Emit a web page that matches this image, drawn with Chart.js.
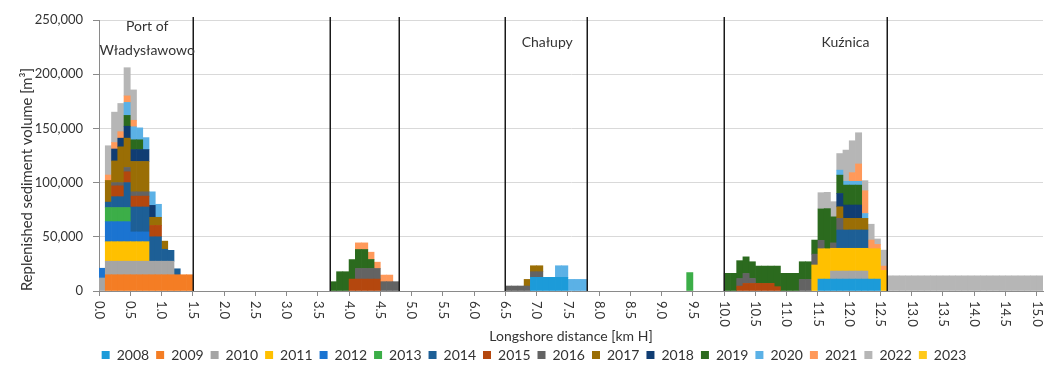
<!DOCTYPE html>
<html>
<head>
<meta charset="utf-8">
<script src="https://cdn.jsdelivr.net/npm/chart.js@4.4.1/dist/chart.umd.min.js"></script>
<style>
  html, body { margin: 0; padding: 0; background: #ffffff; }
</style>
</head>
<body>
<canvas id="chart" width="1057" height="365"></canvas>
<script>
// Replenished sediment volume (m³) per nourishment year.
// Each entry: [start of the 0.1 km bin (km H), volume in m³].
const years = ['2008','2009','2010','2011','2012','2013','2014','2015',
               '2016','2017','2018','2019','2020','2021','2022','2023'];

const v2008 = [
  [6.9,12600],[7.0,12600],[7.1,12600],[7.2,12600],[7.3,12600],[7.4,12600],
  [11.5,11000],[11.6,11000],[11.7,11000],[11.8,11000],[11.9,11000],
  [12.0,11000],[12.1,11000],[12.2,11000],[12.3,11000],[12.4,11000]
];
const v2009 = [
  [0.1,15000],[0.2,15000],[0.3,15000],[0.4,15000],[0.5,15000],[0.6,15000],[0.7,15000],
  [0.8,15000],[0.9,15000],[1.0,15000],[1.1,15000],[1.2,15000],[1.3,15000],[1.4,15000]
];
const v2010 = [
  [0.0,12000],[0.1,12500],[0.2,12500],[0.3,12500],[0.4,12500],[0.5,12500],[0.6,12500],
  [0.7,12500],[0.8,12500],[0.9,12500],[1.0,12500],[1.1,12500],
  [11.7,7400],[11.8,7400],[11.9,7400],[12.0,7400],[12.1,7400],[12.2,7400]
];
const v2011 = [
  [0.1,18000],[0.2,18000],[0.3,18000],[0.4,18000],[0.5,18000],[0.6,18000],[0.7,18000],
  [11.4,24000],[11.5,28000],[11.6,28000],[11.7,21000],[11.8,21000],[11.9,21000],
  [12.0,21000],[12.1,21000],[12.2,21000],[12.3,28000],[12.4,28000],[12.5,19000]
];
const v2012 = [
  [0.0,9000],[0.1,18500],[0.2,18500],[0.3,18500],[0.4,18500],[0.5,9000],[0.6,9000],[0.7,9000]
];
const v2013 = [
  [0.1,13000],[0.2,13000],[0.3,13000],[0.4,13000],[9.4,17000]
];
const v2014 = [
  [0.1,5000],[0.2,10000],[0.3,10000],[0.4,23000],[0.5,23000],[0.6,23000],[0.7,23000],
  [0.8,22500],[0.9,22500],[1.0,11000],[1.1,10000],[1.2,5500],
  [11.8,16900],[11.9,16900],[12.0,16900],[12.1,16900],[12.2,16900]
];
const v2015 = [
  [0.2,10000],[0.3,10000],[0.4,10000],[0.5,10000],[0.6,10000],[0.7,10000],[0.8,10500],[0.9,10500],
  [4.0,11000],[4.1,11000],[4.2,11000],[4.3,11000],[4.4,11000],
  [10.2,4500],[10.3,7000],[10.4,7000],[10.5,7000],[10.6,7000],[10.7,7000],[10.8,4000]
];
const v2016 = [
  [0.2,3000],[0.3,3000],[0.4,4000],[0.5,4000],[0.6,4000],[0.7,4000],
  [4.1,9800],[4.2,9800],[4.3,9800],[4.4,9800],[4.5,8600],[4.6,8600],[4.7,8600],
  [6.5,4600],[6.6,4600],[6.7,4600],[6.8,4600],[6.9,5200],[7.0,5200],
  [10.2,7000],[10.3,9200],[10.4,4600],[11.2,10700],[11.3,10700],[11.4,10000],
  [11.5,7700],[11.7,5000],[11.8,10700]
];
const v2017 = [
  [0.1,20000],[0.2,20000],[0.3,33000],[0.4,27000],[0.5,28000],[0.6,28000],[0.7,28000],
  [0.8,7500],[0.9,7500],[1.0,7500],
  [6.8,6100],[6.9,5500],[7.0,5500],
  [11.8,10700],[11.9,10700],[12.0,10700],[12.1,10700],[12.2,10700]
];
const v2018 = [
  [0.2,11000],[0.3,8000],[0.4,11000],[0.5,11000],[0.6,11000],[0.7,11000],[0.8,11000],
  [11.8,12300],[11.9,12300],[12.0,12300],[12.1,12300]
];
const v2019 = [
  [0.4,10000],[0.5,9000],[0.6,9000],
  [3.7,8600],[3.8,17800],[3.9,17800],[4.0,18000],[4.1,17500],[4.2,17500],[4.3,8300],
  [10.0,16300],[10.1,16300],[10.2,16500],[10.3,15300],[10.4,15400],[10.5,16000],
  [10.6,16000],[10.7,16000],[10.8,19000],[10.9,16300],[11.0,16300],[11.1,16300],
  [11.2,16300],[11.3,16300],[11.4,13000],[11.5,29000],[11.6,37000],[11.7,24000],
  [11.8,16900],[11.9,18400],[12.0,18400],[12.1,18400]
];
const v2020 = [
  [0.4,12000],[0.5,12000],[0.6,11000],[0.7,11000],[0.8,12500],[0.9,12000],
  [7.3,10700],[7.4,10700],[7.5,10700],[7.6,10700],[7.7,10700],
  [11.8,4600],[11.9,3500],[12.0,3500],[12.1,3500],[12.2,4500]
];
const v2021 = [
  [0.1,5000],[0.2,6000],[0.3,6000],[0.4,6000],[0.5,6000],
  [4.1,6100],[4.2,6100],[4.3,6700],[4.4,5800],[4.5,6100],[4.6,6100],
  [12.0,8000],[12.1,16000],[12.2,21000],[12.3,8000],[12.4,4000],[12.5,4000]
];
const v2022 = [
  [0.1,27000],[0.2,28000],[0.3,26000],[0.4,26000],[0.5,28000],
  [11.5,15000],[11.6,15000],[11.7,14000],[11.8,15300],[11.9,28800],[12.0,29400],
  [12.1,28800],[12.2,9300],[12.3,14600],[12.4,5000],[12.5,14700],
  [12.6,14000],[12.7,14000],[12.8,14000],[12.9,14000],[13.0,14000],[13.1,14000],
  [13.2,14000],[13.3,14000],[13.4,14000],[13.5,14000],[13.6,14000],[13.7,14000],
  [13.8,14000],[13.9,14000],[14.0,14000],[14.1,14000],[14.2,14000],[14.3,14000],
  [14.4,14000],[14.5,14000],[14.6,14000],[14.7,14000],[14.8,14000],[14.9,14000],[15.0,14000]
];
const v2023 = [];

const seriesByYear = [v2008, v2009, v2010, v2011, v2012, v2013, v2014, v2015,
                      v2016, v2017, v2018, v2019, v2020, v2021, v2022, v2023];

// Axis labels
const kmTickLabels = ['0.0','0.5','1.0','1.5','2.0','2.5','3.0','3.5','4.0','4.5',
  '5.0','5.5','6.0','6.5','7.0','7.5','8.0','8.5','9.0','9.5','10.0','10.5','11.0',
  '11.5','12.0','12.5','13.0','13.5','14.0','14.5','15.0'];
const volumeTicks = [0, 50000, 100000, 150000, 200000, 250000];

// Coastal section boundaries (km H) and section names
const sectionBounds = [1.5, 3.7, 4.8, 6.5, 7.8, 10.0, 12.6];
const sectionNames = [
  { lines: ['Port of', 'Władysławowo'], km: 0.77, volume: 244000 },
  { lines: ['Chałupy'], km: 7.17, volume: 229000 },
  { lines: ['Kuźnica'], km: 11.94, volume: 229000 }
];

const BIN_WIDTH = 0.1;
const FONT = 'Lato';
const TEXT = '#333333';
const AXIS = '#8a8a8a';

const colors = ['#1C9BD9','#F47D24','#A5A5A5','#FFC000','#1B74D1','#3CAE48','#1D5F96','#B4470E',
                '#636363','#9A6E05','#103D73','#2B6A1E','#5BB1E6','#FF995A','#B6B6B6','#FFC91A'];

const datasets = years.map((year, i) => ({
  label: year,
  data: seriesByYear[i].map(([km, vol]) => ({ x: Math.round((km + BIN_WIDTH / 2) * 100) / 100, y: vol })),
  backgroundColor: colors[i],
  borderWidth: 0,
  barPercentage: 1,
  categoryPercentage: 1
}));

// Section boundary lines, section names and rotated distance labels
const sectionOverlay = {
  id: 'sectionOverlay',
  afterDatasetsDraw(chart) {
    const { ctx, scales: { x, y } } = chart;
    ctx.save();
    ctx.strokeStyle = '#1a1a1a';
    ctx.lineWidth = 1.5;
    const yTop = y.getPixelForValue(volumeTicks[volumeTicks.length - 1]) - 3;
    const yBottom = y.getPixelForValue(0);
    sectionBounds.forEach(km => {
      const px = Math.round(x.getPixelForValue(km)) + 0.25;
      ctx.beginPath();
      ctx.moveTo(px, yTop);
      ctx.lineTo(px, yBottom);
      ctx.stroke();
    });
    ctx.restore();
  },
  afterDraw(chart) {
    const { ctx, scales: { x, y }, chartArea } = chart;
    ctx.save();
    ctx.fillStyle = TEXT;
    ctx.font = `14px ${FONT}`;
    ctx.textAlign = 'center';
    ctx.textBaseline = 'middle';
    sectionNames.forEach(s => {
      const cx = x.getPixelForValue(s.km);
      const cy = y.getPixelForValue(s.volume);
      s.lines.forEach((line, i) => ctx.fillText(line, cx, cy + i * 24));
    });
    ctx.font = `13px ${FONT}`;
    ctx.textAlign = 'left';
    kmTickLabels.forEach(label => {
      const px = x.getPixelForValue(parseFloat(label));
      ctx.save();
      ctx.translate(px, chartArea.bottom + 10);
      ctx.rotate(Math.PI / 2);
      ctx.fillText(label, 0, 0);
      ctx.restore();
    });
    ctx.restore();
  }
};

new Chart(document.getElementById('chart'), {
  type: 'bar',
  data: { datasets },
  plugins: [sectionOverlay],
  options: {
    responsive: false,
    animation: false,
    devicePixelRatio: 1,
    events: [],
    layout: { padding: { left: 25, right: 14, top: 20, bottom: -7 } },
    plugins: {
      tooltip: { enabled: false },
      legend: {
        position: 'bottom',
        labels: {
          font: { family: FONT, size: 14 },
          color: TEXT,
          boxWidth: 8,
          boxHeight: 8,
          padding: 7
        }
      }
    },
    scales: {
      x: {
        type: 'linear',
        stacked: true,
        offset: false,
        bounds: 'data',
        min: 0,
        max: 15.1,
        afterBuildTicks(scale) {
          scale.ticks = kmTickLabels.map(l => ({ value: parseFloat(l) }));
        },
        afterFit(scale) { scale.height = 50; },
        ticks: { display: false },
        grid: { drawOnChartArea: false, drawTicks: true, tickLength: 5, tickColor: AXIS, offset: false },
        border: { color: AXIS, width: 1 },
        title: {
          display: true,
          text: 'Longshore distance [km H]',
          color: TEXT,
          font: { family: FONT, size: 14, lineHeight: 1 },
          padding: { top: 0, bottom: -2.7 }
        }
      },
      y: {
        stacked: true,
        min: volumeTicks[0],
        max: volumeTicks[volumeTicks.length - 1],
        afterBuildTicks(scale) {
          scale.ticks = volumeTicks.map(v => ({ value: v }));
        },
        afterFit(scale) { scale.width = 74; },
        ticks: {
          color: TEXT,
          font: { family: FONT, size: 13 },
          padding: 10,
          callback: v => v.toLocaleString('en-US')
        },
        grid: { color: '#d9d9d9', tickColor: AXIS, tickLength: 6 },
        border: { color: AXIS, width: 1 },
        title: {
          display: true,
          align: 'start',
          text: 'Replenished sediment volume [m³]',
          color: TEXT,
          font: { family: FONT, size: 14.8, lineHeight: 1 },
          padding: { top: -5, bottom: 0 }
        }
      }
    }
  }
});
</script>
</body>
</html>
